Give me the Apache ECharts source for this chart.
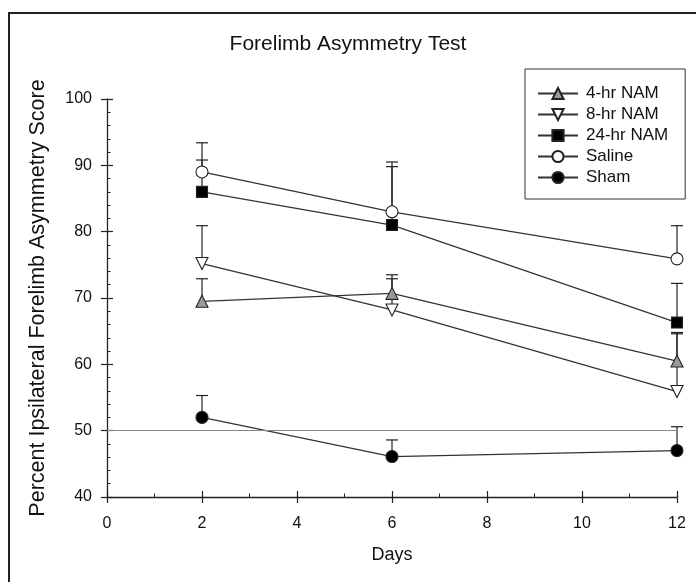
<!DOCTYPE html>
<html>
<head>
<meta charset="utf-8">
<script src="https://cdn.jsdelivr.net/npm/echarts@6/dist/echarts.min.js"></script>
<style>html,body{margin:0;padding:0;background:#fff;}#c{width:696px;height:582px;}</style>
</head>
<body>
<div id="c"></div>
<script>
const days = [2, 6, 12];
const hr4 = [69.5, 70.7, 60.5];
const hr4Err = [3.4, 2.8, 4.3];
const hr8 = [75.2, 68.2, 55.9];
const hr8Err = [5.7, 4.7, 8.7];
const hr24 = [86.0, 81.0, 66.3];
const hr24Err = [4.8, 8.8, 5.9];
const saline = [89.0, 83.0, 75.9];
const salineErr = [4.4, 7.5, 5.0];
const sham = [52.0, 46.1, 47.0];
const shamErr = [3.3, 2.5, 3.6];
const refLine = 50;
const names = ['4-hr NAM', '8-hr NAM', '24-hr NAM', 'Saline', 'Sham'];

const FONT = 'Liberation Sans, Arial, sans-serif';
const INK = '#222';

function lineSeries(name, vals, symbol, fill, rotate) {
  return {
    type: 'line', name: name, z: 3,
    data: days.map((d, i) => [d, vals[i]]),
    symbol: symbol, symbolSize: symbol === 'rect' ? 11 : 12,
    symbolRotate: rotate || 0,
    lineStyle: { color: '#333', width: 1.3 },
    itemStyle: { color: fill, borderColor: INK, borderWidth: 1.1, opacity: 1 },
    emphasis: { disabled: true },
    animation: false
  };
}
function errSeries(name, vals, errs) {
  return {
    type: 'custom', name: name + ' err', z: 2, silent: true, animation: false,
    data: days.map((d, i) => [d, vals[i], vals[i] + errs[i]]),
    renderItem: function (params, api) {
      const p0 = api.coord([api.value(0), api.value(1)]);
      const p1 = api.coord([api.value(0), api.value(2)]);
      const hw = 6;
      const st = { stroke: INK, lineWidth: 1.2 };
      return { type: 'group', children: [
        { type: 'line', shape: { x1: p0[0], y1: p0[1], x2: p1[0], y2: p1[1] }, style: st },
        { type: 'line', shape: { x1: p1[0] - hw, y1: p1[1], x2: p1[0] + hw, y2: p1[1] }, style: st }
      ]};
    }
  };
}

const chart = echarts.init(document.getElementById('c'), null, { renderer: 'canvas' });
const xBase = { type: 'value', min: 0, max: 12, interval: 2, splitLine: { show: false } };
const yBase = { type: 'value', min: 40, max: 100, interval: 10, splitLine: { show: false } };
const shamLine = lineSeries(names[4], sham, 'circle', '#000');
shamLine.markLine = {
  silent: true, symbol: 'none', animation: false,
  label: { show: false },
  lineStyle: { color: '#888', width: 1, type: 'solid' },
  data: [{ yAxis: refLine }]
};

chart.setOption({
  backgroundColor: '#fff',
  animation: false,
  textStyle: { fontFamily: FONT },
  title: {
    text: 'Forelimb Asymmetry Test', left: 'center', top: 29,
    textStyle: { fontFamily: FONT, fontSize: 21, fontWeight: 'normal', color: '#111' }
  },
  legend: {
    data: names, orient: 'vertical', left: 525, top: 69,
    padding: [16, 17, 13, 12], itemGap: 4, itemWidth: 40, itemHeight: 14,
    borderColor: '#333', borderWidth: 1, selectedMode: false,
    textStyle: { fontFamily: FONT, fontSize: 17, color: '#111', padding: [0, 0, 0, 3] }
  },
  grid: { left: 107, right: 19, top: 99, bottom: 85 },
  xAxis: [
    Object.assign({}, xBase, {
      name: 'Days', nameLocation: 'middle', nameGap: 49,
      nameTextStyle: { fontFamily: FONT, fontSize: 18, color: '#111' },
      axisLine: { lineStyle: { color: INK, width: 1.3 } },
      axisTick: { inside: true, length: 6, lineStyle: { color: INK, width: 1.2 } },
      minorTick: { show: true, splitNumber: 2, length: 3.5, lineStyle: { color: INK, width: 1 } },
      axisLabel: { margin: 19, fontFamily: FONT, fontSize: 16, color: '#111' }
    }),
    Object.assign({}, xBase, {
      position: 'bottom',
      axisLine: { show: false },
      axisTick: { inside: false, length: 6, lineStyle: { color: INK, width: 1.2 } },
      axisLabel: { show: false }
    })
  ],
  yAxis: [
    Object.assign({}, yBase, {
      name: 'Percent Ipsilateral Forelimb Asymmetry Score', nameLocation: 'middle', nameGap: 58,
      nameTextStyle: { fontFamily: FONT, fontSize: 21.5, color: '#111' },
      axisLine: { show: true, lineStyle: { color: INK, width: 1.3 } },
      axisTick: { show: true, inside: true, length: 6, lineStyle: { color: INK, width: 1.2 } },
      minorTick: { show: true, splitNumber: 5, length: 3.5, lineStyle: { color: INK, width: 1 } },
      axisLabel: { margin: 15, fontFamily: FONT, fontSize: 16, color: '#111' }
    }),
    Object.assign({}, yBase, {
      position: 'left',
      axisLine: { show: false },
      axisTick: { show: true, inside: false, length: 6, lineStyle: { color: INK, width: 1.2 } },
      axisLabel: { show: false }
    })
  ],
  graphic: [{
    type: 'polyline', silent: true,
    shape: { points: [[9, 582], [9, 13], [696, 13]] },
    style: { stroke: '#222', lineWidth: 2, fill: null }
  }],
  series: [
    errSeries(names[0], hr4, hr4Err),
    errSeries(names[1], hr8, hr8Err),
    errSeries(names[2], hr24, hr24Err),
    errSeries(names[3], saline, salineErr),
    errSeries(names[4], sham, shamErr),
    lineSeries(names[0], hr4, 'triangle', '#9a9a9a'),
    lineSeries(names[1], hr8, 'triangle', '#fff', 180),
    lineSeries(names[2], hr24, 'rect', '#000'),
    lineSeries(names[3], saline, 'circle', '#fff'),
    shamLine
  ]
});
</script>
</body>
</html>
